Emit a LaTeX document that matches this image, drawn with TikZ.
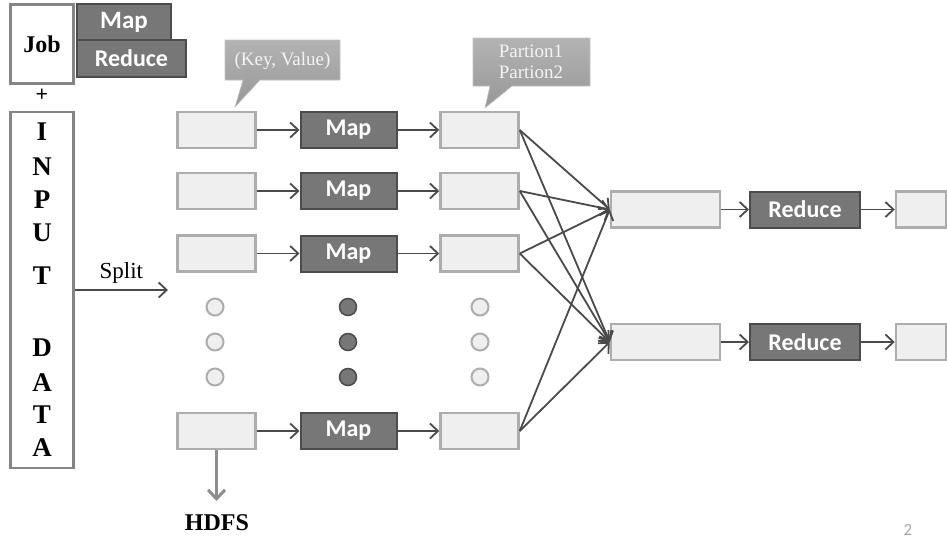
\documentclass[tikz,border=0pt]{standalone}
\usepackage{fontspec}
\setmainfont{Liberation Serif}
\newfontfamily\labelfont{Carlito}
\newfontfamily\pagefont{Carlito}
\usetikzlibrary{arrows.meta}

\definecolor{boxfill}{HTML}{EFEFEF}
\definecolor{boxedge}{HTML}{ADADAD}
\definecolor{darkfill}{HTML}{777777}
\definecolor{darkedge}{HTML}{4C4C4C}
\definecolor{framegray}{HTML}{858585}
\definecolor{arrowgray}{HTML}{4A4A4A}
\definecolor{hdfsgray}{HTML}{8E8E8E}
\definecolor{calloutTop}{HTML}{B3B3B3}
\definecolor{calloutBot}{HTML}{979797}
\definecolor{callouttext}{HTML}{F4F4F4}

\tikzset{
  lightbox/.style={draw=boxedge, fill=boxfill, line width=2.5pt,
    minimum width=78pt, minimum height=36pt, inner sep=0pt},
  darkbox/.style={draw=darkedge, fill=darkfill, line width=2pt,
    minimum height=36pt, inner sep=0pt, text=white,
    font=\labelfont\bfseries\fontsize{24}{24}\selectfont},
  framebox/.style={draw=framegray, fill=white, line width=2.5pt,
    minimum width=63pt, inner sep=0pt},
  serifbold/.style={font=\bfseries\fontsize{#1}{#1}\selectfont, inner sep=0pt},
  flow/.style={draw=arrowgray, line width=1.8pt,
    -{Straight Barb[length=8pt,width=15pt,line width=1.8pt]}},
  dotlight/.style={circle, draw=boxedge, fill=boxfill, line width=2pt,
    minimum size=17pt, inner sep=0pt},
  dotdark/.style={circle, draw=darkedge, fill=darkfill, line width=1.5pt,
    minimum size=17pt, inner sep=0pt},
  callout/.style={draw=calloutTop!80!white, line width=0.6pt,
    top color=calloutTop, bottom color=calloutBot},
  callouttxt/.style={text=callouttext, font=\fontsize{19}{21}\selectfont,
    align=center, inner sep=0pt},
}

\begin{document}
\begin{tikzpicture}[x=1pt, y=-1pt]
\useasboundingbox (0,0) rectangle (947,538);

% Job + MapReduce legend
\node[framebox, minimum height=79pt, serifbold=24] (job) at (42,44) {Job};
\node[darkbox, minimum width=94pt, minimum height=36pt, font=\labelfont\bfseries\fontsize{25}{25}\selectfont] (lgMap) at (124,22) {Map};
\node[darkbox, minimum width=109pt, minimum height=37pt] (lgReduce) at (131.5,58.5) {Reduce};
\node[serifbold=22] (plus) at (42,95) {+};

% Input data column
\node[framebox, minimum height=356pt] (input) at (42,290) {};
\foreach \ch/\yy [count=\i] in {I/132,N/167,P/200,U/233,T/276,D/348,A/383,T/415,A/448}
  \node[serifbold=27] (in\i) at (42,\yy) {\ch};

% Split arrow
\coordinate (splitEnd) at (168,290);
\draw[flow] (input.east |- splitEnd) -- (splitEnd)
  node[midway, above=6pt, font=\fontsize{23}{23}\selectfont, inner sep=0pt] (splitLbl) {Split};

% Map rows
\foreach \r/\yy in {1/130,2/191,3/253.5,4/431}{
  \node[lightbox] (a\r) at (216.5,\yy) {};
  \node[darkbox, minimum width=96pt] (m\r) at (348.5,\yy) {Map};
  \node[lightbox] (p\r) at (479.5,\yy) {};
  \draw[flow] (a\r) -- (m\r);
  \draw[flow] (m\r) -- (p\r);
}

% Ellipsis dots
\foreach \yy [count=\k] in {307,342,377}{
  \node[dotlight] (da\k) at (215,\yy) {};
  \node[dotdark]  (dm\k) at (348,\yy) {};
  \node[dotlight] (dp\k) at (480,\yy) {};
}

% Reduce rows
\foreach \s/\yy in {1/209.5,2/342}{
  \node[lightbox, minimum width=109pt] (r\s) at (665.5,\yy) {};
  \node[darkbox, minimum width=110pt] (rd\s) at (805,\yy) {Reduce};
  \node[lightbox, minimum width=50pt] (o\s) at (921,\yy) {};
  \draw[flow] (r\s) -- (rd\s);
  \draw[flow] (rd\s) -- (o\s);
}

% Shuffle connections
\foreach \r in {1,2,3,4}{
  \draw[flow] (p\r.east) -- (r1.west);
  \draw[flow] (p\r.east) -- (r2.west);
}

% HDFS output
\coordinate (hdfsEnd) at (216.5,501);
\draw[draw=hdfsgray, line width=3pt,
  -{Straight Barb[length=9pt,width=17pt,line width=3pt]}] (a4.south) -- (hdfsEnd);
\node[serifbold=24] (hdfs) at (217,523) {HDFS};

% Callouts
\path[callout] (225,40) -- (340,40) -- (340,80) -- (260,80) -- (235,107)
  -- (243,80) -- (225,80) -- cycle;
\node[callouttxt] (kv) at (282.5,61) {(Key, Value)};
\path[callout] (473,38) -- (590,38) -- (590,86) -- (512,86) -- (485,108)
  -- (490,86) -- (473,86) -- cycle;
\node[callouttxt] (part) at (531,62) {Partion1\\Partion2};

% Slide number
\node[text=gray!70, font=\pagefont\fontsize{17}{17}\selectfont, inner sep=0pt] (pg) at (908,530) {2};
\end{tikzpicture}
\end{document}
